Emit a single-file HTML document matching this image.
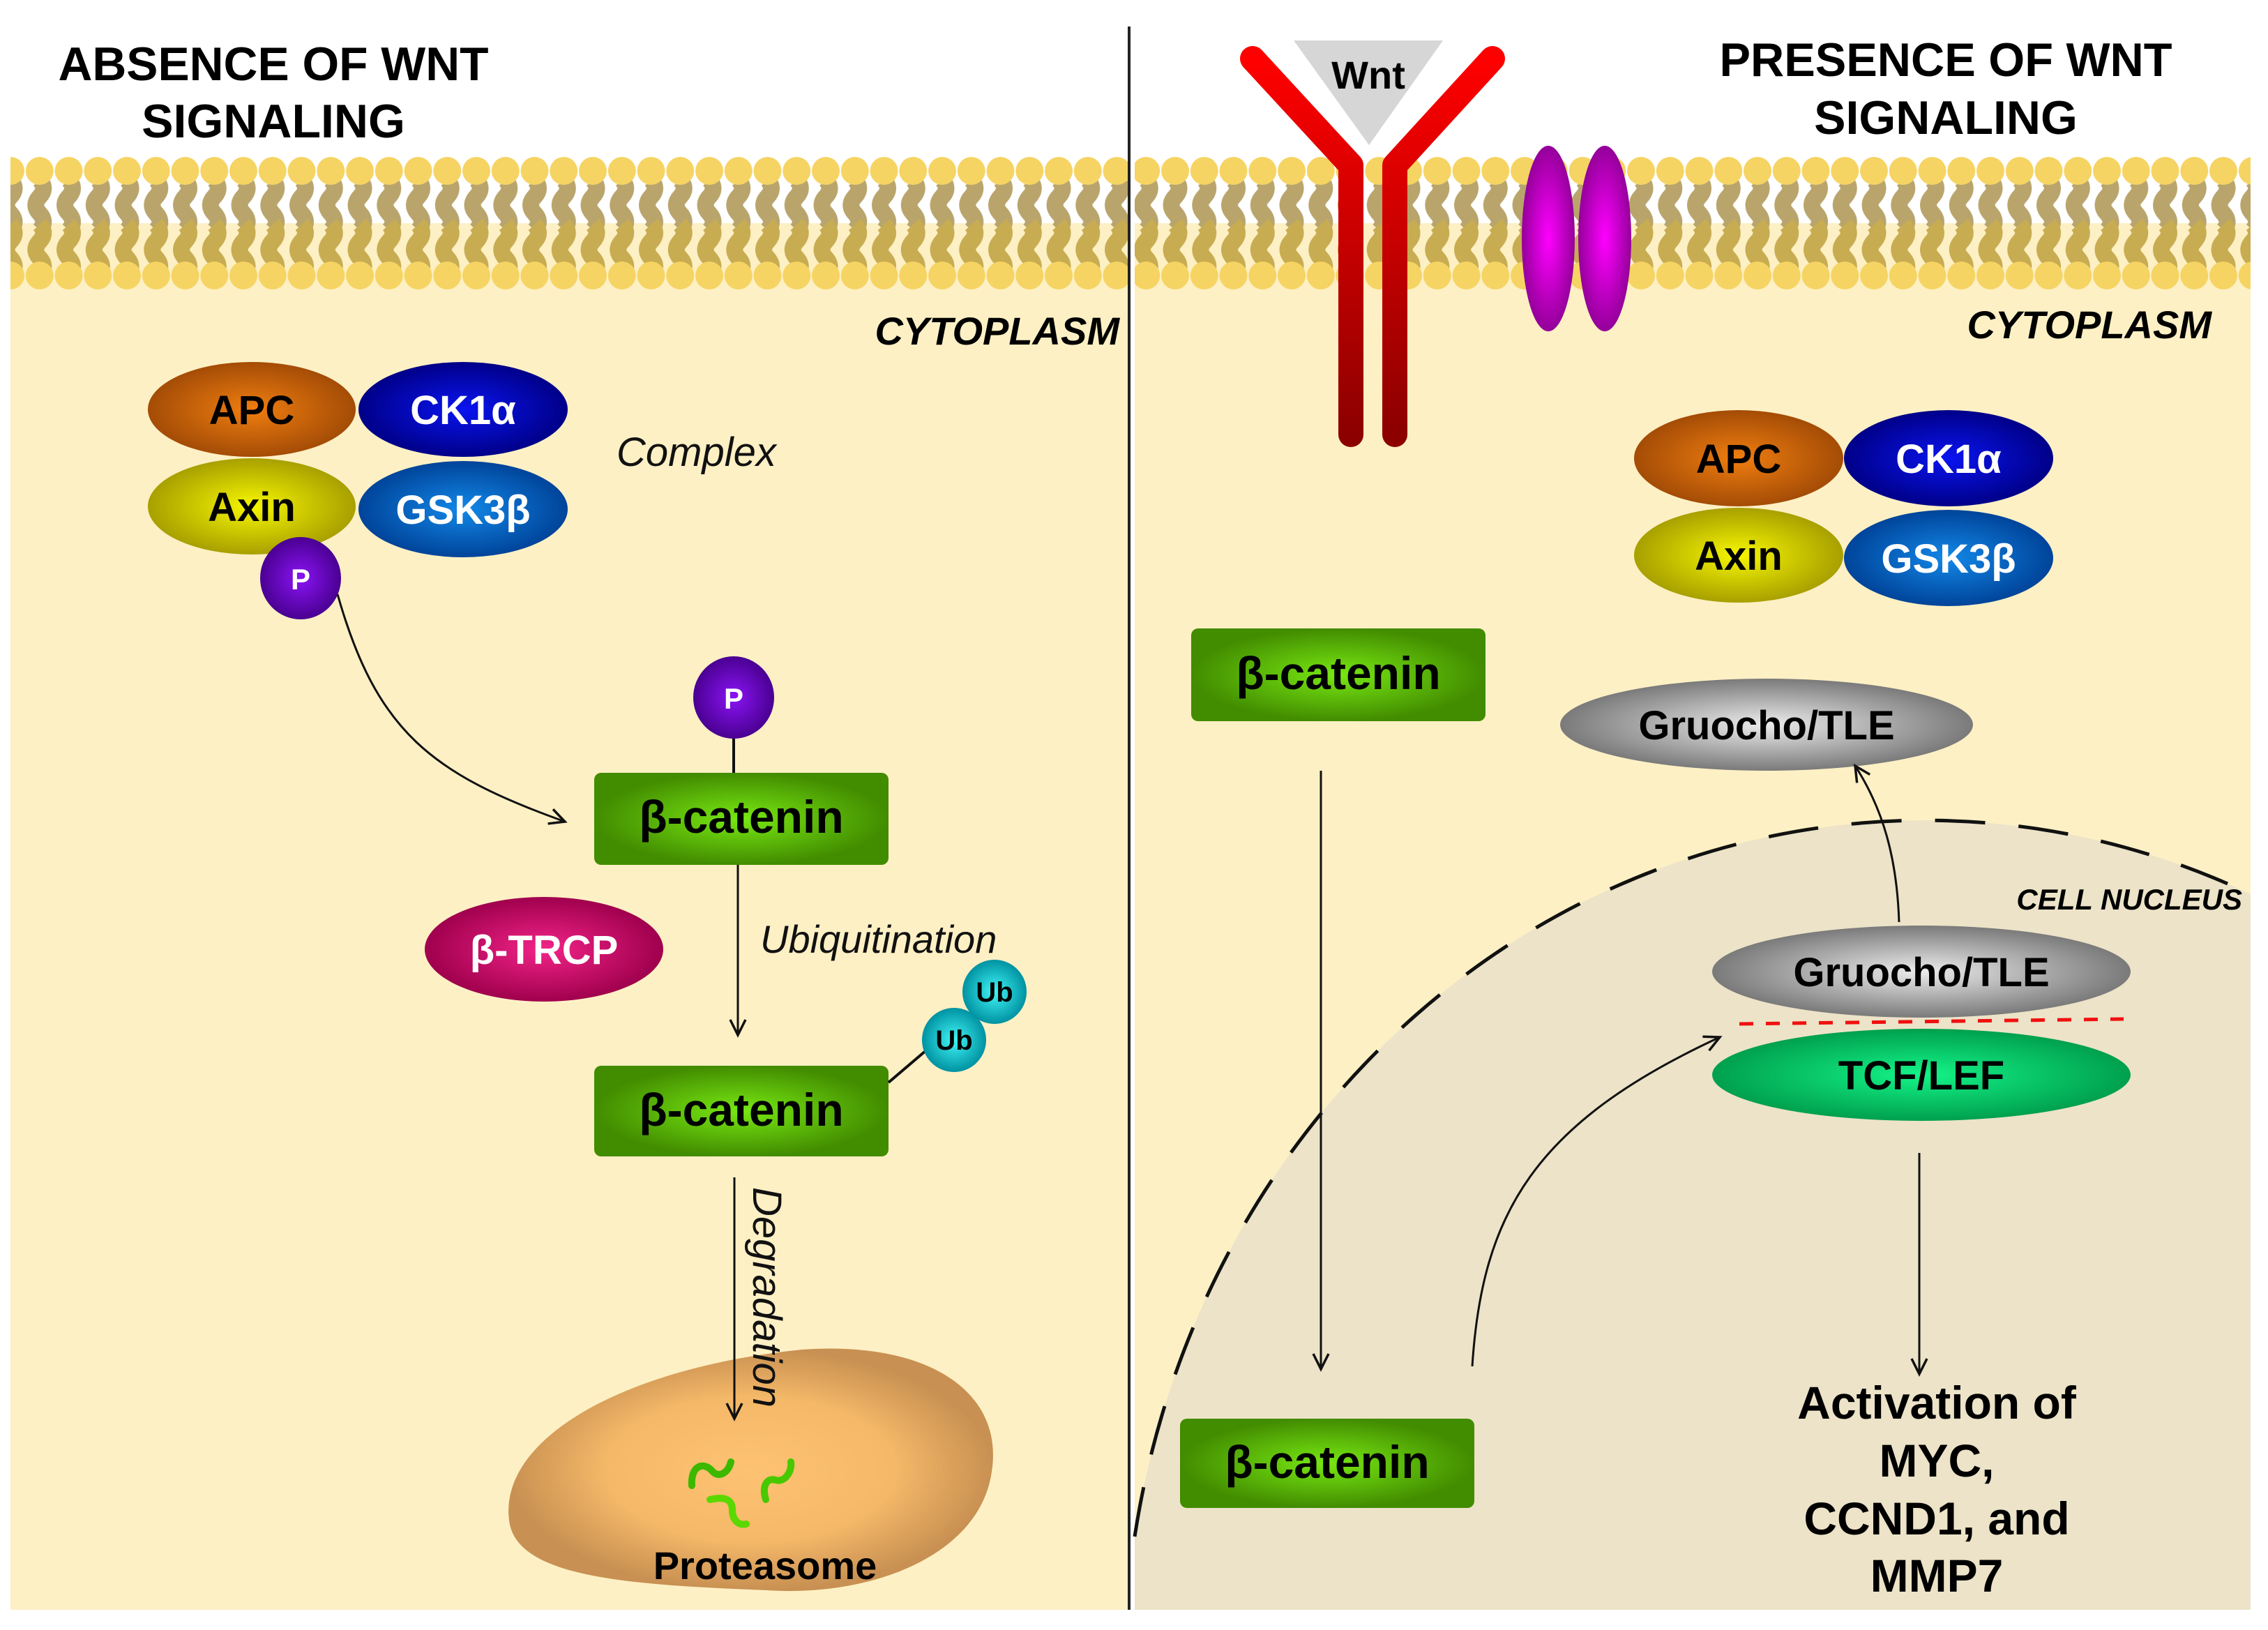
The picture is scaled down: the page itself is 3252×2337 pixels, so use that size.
<!DOCTYPE html>
<html><head><meta charset="utf-8"><style>
html,body{margin:0;padding:0;background:#fff;width:3252px;height:2337px;overflow:hidden}
svg{display:block}
text{font-family:"Liberation Sans",sans-serif}
</style></head><body>
<svg width="3252" height="2337" viewBox="0 0 3252 2337" xmlns="http://www.w3.org/2000/svg">
<defs>
<pattern id="lip" patternUnits="userSpaceOnUse" x="-5.875" y="0" width="41.75" height="2337">
<path d="M20.9,258 q11,12 0,24 q-11,12 0,24 q11,12 0,24" fill="none" stroke="#b9a56c" stroke-width="24"/>
<path d="M20.9,322 q11,12 0,24 q-11,12 0,24 q11,12 0,24" fill="none" stroke="#c8ac52" stroke-width="24"/>
<circle cx="20.9" cy="245" r="20" fill="#f6d463"/>
<circle cx="20.9" cy="395" r="20" fill="#f6d463"/>
</pattern>
<radialGradient id="gAPC"><stop offset="0" stop-color="#f07e10"/><stop offset="1" stop-color="#a44c06"/></radialGradient>
<radialGradient id="gCK"><stop offset="0" stop-color="#0a14f0"/><stop offset="1" stop-color="#000088"/></radialGradient>
<radialGradient id="gAx"><stop offset="0" stop-color="#f6f600"/><stop offset="1" stop-color="#a8a000"/></radialGradient>
<radialGradient id="gGSK"><stop offset="0" stop-color="#1288e8"/><stop offset="1" stop-color="#00449a"/></radialGradient>
<radialGradient id="gP"><stop offset="0" stop-color="#8a14f4"/><stop offset="1" stop-color="#4a0092"/></radialGradient>
<radialGradient id="gB"><stop offset="0" stop-color="#78e812"/><stop offset="1" stop-color="#428c00"/></radialGradient>
<radialGradient id="gTR"><stop offset="0" stop-color="#f22488"/><stop offset="1" stop-color="#a0004e"/></radialGradient>
<radialGradient id="gUb"><stop offset="0" stop-color="#40f6f6"/><stop offset="1" stop-color="#0092a2"/></radialGradient>
<radialGradient id="gGr"><stop offset="0" stop-color="#ececec"/><stop offset="1" stop-color="#7a7a7a"/></radialGradient>
<radialGradient id="gTCF"><stop offset="0" stop-color="#14f488"/><stop offset="1" stop-color="#00a04e"/></radialGradient>
<radialGradient id="gPro"><stop offset="0" stop-color="#fdc272"/><stop offset="0.6" stop-color="#f4b868"/><stop offset="1" stop-color="#c89052"/></radialGradient>
<radialGradient id="gPur"><stop offset="0" stop-color="#ff00ff"/><stop offset="1" stop-color="#94009a"/></radialGradient>
<linearGradient id="gRec" x1="0" y1="0" x2="0" y2="1" gradientUnits="objectBoundingBox"><stop offset="0" stop-color="#ff0000"/><stop offset="1" stop-color="#8c0000"/></linearGradient>
<marker id="ah2" markerWidth="28" markerHeight="28" refX="24" refY="14" orient="auto" markerUnits="userSpaceOnUse">
<path d="M2,3 L24,14 L2,25" fill="none" stroke="#111" stroke-width="3.5"/>
</marker>
</defs>

<rect x="15" y="320" width="1602" height="1988" fill="#fdf0c4"/>
<rect x="1627" y="320" width="1600" height="1988" fill="#fdf0c4"/>
<path d="M1627,2203 A1148,1224 0 0 1 3227,1282 L3227,2308 L1627,2308 Z" fill="#ece3c8"/>
<path d="M1627,2203 A1148,1224 0 0 1 3227,1282" fill="none" stroke="#111" stroke-width="5" stroke-dasharray="72 48"/>
<rect x="15" y="222" width="1602" height="196" fill="url(#lip)"/>
<rect x="1627" y="222" width="1600" height="196" fill="url(#lip)"/>

<line x1="1619" y1="38" x2="1619" y2="2308" stroke="#222" stroke-width="4"/>

<g font-weight="bold" font-size="68" fill="#000" text-anchor="middle">
<text x="392" y="115" textLength="617" lengthAdjust="spacingAndGlyphs">ABSENCE OF WNT</text>
<text x="392" y="197">SIGNALING</text>
<text x="2790" y="109" textLength="649" lengthAdjust="spacingAndGlyphs">PRESENCE OF WNT</text>
<text x="2790" y="192">SIGNALING</text>
</g>
<g font-weight="bold" font-style="italic" font-size="56" fill="#000" text-anchor="end">
<text x="1605" y="494">CYTOPLASM</text>
<text x="3171" y="485">CYTOPLASM</text>
</g>

<ellipse cx="361" cy="587" rx="149" ry="68" fill="url(#gAPC)"/>
<ellipse cx="664" cy="587" rx="150" ry="68" fill="url(#gCK)"/>
<ellipse cx="361" cy="726" rx="149" ry="69" fill="url(#gAx)"/>
<ellipse cx="664" cy="730" rx="150" ry="69" fill="url(#gGSK)"/>
<g font-weight="bold" font-size="58" text-anchor="middle">
<text x="361" y="608" fill="#000">APC</text>
<text x="664" y="608" fill="#fff">CK1α</text>
<text x="361" y="747" fill="#000">Axin</text>
<text x="664" y="751" fill="#fff">GSK3β</text>
</g>
<ellipse cx="431" cy="829" rx="58" ry="59" fill="url(#gP)"/>
<text x="431" y="845" font-weight="bold" font-size="42" fill="#fff" text-anchor="middle">P</text>
<text x="884" y="668" font-style="italic" font-size="58" fill="#111">Complex</text>

<path d="M484,852 C540,1050 620,1110 810,1178" fill="none" stroke="#111" stroke-width="3" marker-end="url(#ah2)"/>

<line x1="1052" y1="1055" x2="1052" y2="1108" stroke="#111" stroke-width="4"/>
<ellipse cx="1052" cy="1000" rx="58" ry="59" fill="url(#gP)"/>
<text x="1052" y="1016" font-weight="bold" font-size="42" fill="#fff" text-anchor="middle">P</text>

<rect x="852" y="1108" width="422" height="132" rx="10" fill="url(#gB)"/>
<text x="1063" y="1194" font-weight="bold" font-size="66" fill="#000" text-anchor="middle">β-catenin</text>

<ellipse cx="780" cy="1361" rx="171" ry="75" fill="url(#gTR)"/>
<text x="780" y="1382" font-weight="bold" font-size="58" fill="#fff" text-anchor="middle">β-TRCP</text>

<line x1="1058" y1="1240" x2="1058" y2="1484" stroke="#111" stroke-width="3" marker-end="url(#ah2)"/>
<text x="1090" y="1366" font-style="italic" font-size="56" fill="#111">Ubiquitination</text>

<rect x="852" y="1528" width="422" height="130" rx="10" fill="url(#gB)"/>
<text x="1063" y="1614" font-weight="bold" font-size="66" fill="#000" text-anchor="middle">β-catenin</text>
<line x1="1274" y1="1552" x2="1335" y2="1500" stroke="#111" stroke-width="4"/>
<circle cx="1426" cy="1422" r="46" fill="url(#gUb)"/>
<circle cx="1368" cy="1491" r="46" fill="url(#gUb)"/>
<text x="1426" y="1436" font-weight="bold" font-size="40" fill="#000" text-anchor="middle">Ub</text>
<text x="1368" y="1505" font-weight="bold" font-size="40" fill="#000" text-anchor="middle">Ub</text>

<path d="M730,2180 C715,2060 900,1960 1150,1935 C1330,1922 1440,1995 1422,2110 C1405,2230 1250,2290 1100,2280 C900,2272 740,2262 730,2180 Z" fill="url(#gPro)"/>
<g fill="none" stroke-width="10" stroke-linecap="round">
<path d="M992,2130 C990,2100 1010,2095 1022,2110 C1032,2120 1045,2110 1048,2096" stroke="#3cb800"/>
<path d="M1018,2150 C1040,2145 1050,2150 1050,2165 C1050,2180 1060,2188 1070,2185" stroke="#5ad800"/>
<path d="M1098,2150 C1092,2130 1100,2118 1112,2122 C1125,2126 1136,2110 1134,2096" stroke="#48c800"/>
</g>
<line x1="1053" y1="1688" x2="1053" y2="2034" stroke="#111" stroke-width="3" marker-end="url(#ah2)"/>
<text transform="translate(1080,1702) rotate(90)" font-style="italic" font-size="58" fill="#111">Degradation</text>
<text x="1097" y="2264" font-weight="bold" font-size="56" fill="#000" text-anchor="middle">Proteasome</text>

<ellipse cx="2220" cy="342" rx="38" ry="133" fill="url(#gPur)"/>
<ellipse cx="2301" cy="342" rx="38" ry="133" fill="url(#gPur)"/>
<polygon points="1855,58 2069,58 1963,208" fill="#d6d6d6"/>
<text x="1962" y="127" font-weight="bold" font-size="56" fill="#000" text-anchor="middle">Wnt</text>
<g fill="none" stroke="url(#gRec)" stroke-width="36" stroke-linecap="round" stroke-linejoin="round">
<path d="M1796,84 L1937,237 L1937,623"/>
<path d="M2140,84 L2000,237 L2000,623"/>
</g>

<ellipse cx="2493" cy="657" rx="150" ry="69" fill="url(#gAPC)"/>
<ellipse cx="2794" cy="657" rx="150" ry="69" fill="url(#gCK)"/>
<ellipse cx="2493" cy="796" rx="150" ry="68" fill="url(#gAx)"/>
<ellipse cx="2794" cy="800" rx="150" ry="69" fill="url(#gGSK)"/>
<g font-weight="bold" font-size="58" text-anchor="middle">
<text x="2493" y="678" fill="#000">APC</text>
<text x="2794" y="678" fill="#fff">CK1α</text>
<text x="2493" y="817" fill="#000">Axin</text>
<text x="2794" y="821" fill="#fff">GSK3β</text>
</g>

<rect x="1708" y="901" width="422" height="133" rx="10" fill="url(#gB)"/>
<text x="1919" y="988" font-weight="bold" font-size="66" fill="#000" text-anchor="middle">β-catenin</text>

<ellipse cx="2533" cy="1039" rx="296" ry="66" fill="url(#gGr)"/>
<text x="2533" y="1060" font-weight="bold" font-size="58" fill="#000" text-anchor="middle">Gruocho/TLE</text>

<line x1="1894" y1="1105" x2="1894" y2="1963" stroke="#111" stroke-width="3" marker-end="url(#ah2)"/>

<text x="3215" y="1304" font-weight="bold" font-style="italic" font-size="42" fill="#000" text-anchor="end">CELL NUCLEUS</text>

<path d="M2723,1322 C2720,1230 2700,1160 2660,1098" fill="none" stroke="#111" stroke-width="3" marker-end="url(#ah2)"/>

<ellipse cx="2755" cy="1393" rx="300" ry="66" fill="url(#gGr)"/>
<text x="2755" y="1414" font-weight="bold" font-size="58" fill="#000" text-anchor="middle">Gruocho/TLE</text>
<line x1="2494" y1="1468" x2="3045" y2="1461" stroke="#f01010" stroke-width="5" stroke-dasharray="20 18"/>
<ellipse cx="2755" cy="1541" rx="300" ry="66" fill="url(#gTCF)"/>
<text x="2755" y="1562" font-weight="bold" font-size="58" fill="#000" text-anchor="middle">TCF/LEF</text>

<path d="M2111,1959 C2125,1740 2200,1610 2466,1487" fill="none" stroke="#111" stroke-width="3" marker-end="url(#ah2)"/>

<rect x="1692" y="2034" width="422" height="128" rx="10" fill="url(#gB)"/>
<text x="1903" y="2119" font-weight="bold" font-size="66" fill="#000" text-anchor="middle">β-catenin</text>

<line x1="2752" y1="1653" x2="2752" y2="1970" stroke="#111" stroke-width="3" marker-end="url(#ah2)"/>
<g font-weight="bold" font-size="66" fill="#000" text-anchor="middle">
<text x="2777" y="2034">Activation of</text>
<text x="2777" y="2117">MYC,</text>
<text x="2777" y="2200">CCND1, and</text>
<text x="2777" y="2282">MMP7</text>
</g>
</svg>
</body></html>
